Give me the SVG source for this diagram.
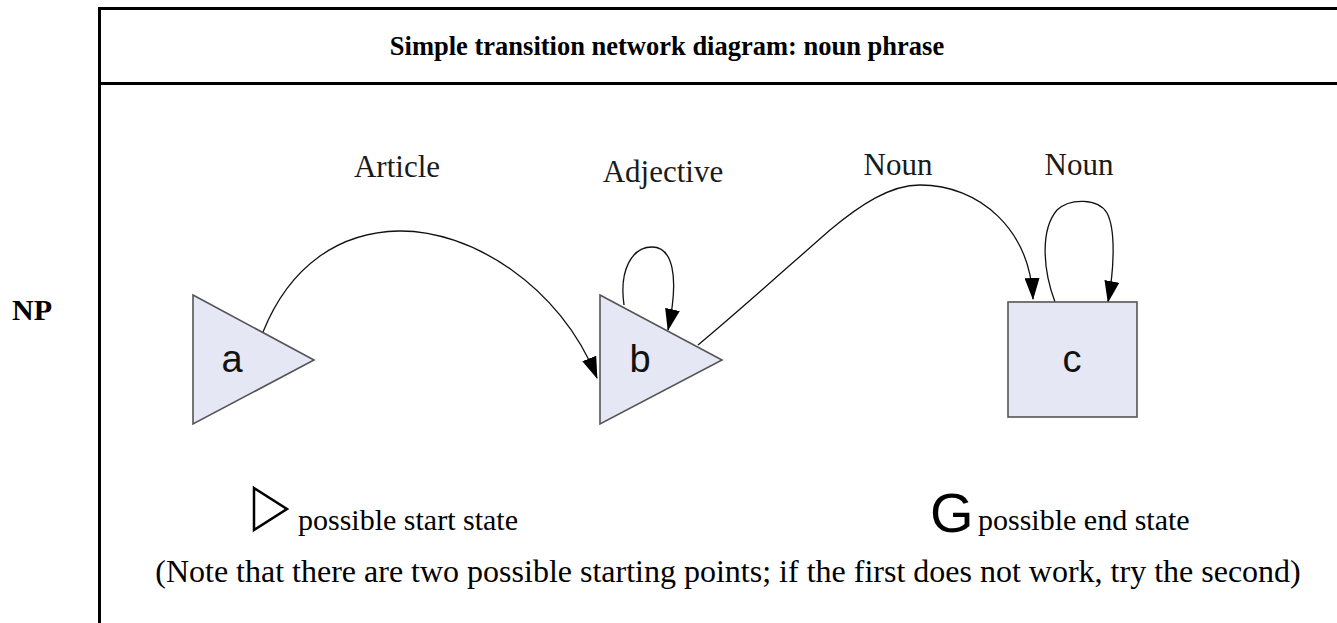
<svg xmlns="http://www.w3.org/2000/svg" width="1337" height="623" viewBox="0 0 1337 623">
<defs>
<style>
.frame{stroke:#000;stroke-width:3;fill:none}
.serif{font-family:"Liberation Serif","Times New Roman",serif;fill:#000}
.lbl{font-family:"Liberation Serif","Times New Roman",serif;font-size:31px;fill:#1a1a1a}
.node{fill:#e5e8f4;stroke:#555;stroke-width:1.6}
.nl{font-family:"Liberation Sans",Arial,sans-serif;font-size:38px;fill:#111}
.edge{fill:none;stroke:#111;stroke-width:1.3}
</style>
<marker id="ah" viewBox="0 0 22 15" refX="21" refY="7.5" markerWidth="22" markerHeight="15" markerUnits="userSpaceOnUse" orient="auto">
<path d="M0,0 L22,7.5 L0,15 z" fill="#000"/>
</marker>
</defs>
<rect width="1337" height="623" fill="#fff"/>
<g id="frame">
<line class="frame" x1="99.5" y1="7" x2="99.5" y2="623"/>
<line class="frame" x1="98" y1="8.5" x2="1337" y2="8.5"/>
<line class="frame" x1="98" y1="83.5" x2="1337" y2="83.5"/>
</g>
<text class="serif" x="667" y="55" text-anchor="middle" font-size="26.5" font-weight="bold">Simple transition network diagram: noun phrase</text>
<text class="serif" x="12" y="320" font-size="30" font-weight="bold">NP</text>
<g id="connectors">
<path class="edge" d="M263,332 C290,265 340,232 399,231 C470,230 560,285 597,378" marker-end="url(#ah)"/>
<path class="edge" d="M624,305 C619,270 632,247 652,247 C672,247 680,275 668,330" marker-end="url(#ah)"/>
<path class="edge" d="M698,345 C740,310 790,265 830,230 C860,205 890,185 920,185 C980,185 1030,230 1033,299" marker-end="url(#ah)"/>
<path class="edge" d="M1055,302 C1043,270 1040,230 1057,210 C1070,198 1098,198 1107,213 C1116,230 1114,270 1108,302" marker-end="url(#ah)"/>
</g>
<g id="node-a">
<polygon class="node" points="193,295 314,360 193,424"/>
<text class="nl" x="232" y="372" text-anchor="middle">a</text>
</g>
<g id="node-b">
<polygon class="node" points="600,295 722,360 600,424"/>
<text class="nl" x="640" y="372" text-anchor="middle">b</text>
</g>
<g id="node-c">
<rect class="node" x="1008" y="302" width="129" height="115"/>
<text class="nl" x="1072" y="372" text-anchor="middle">c</text>
</g>
<g id="labels">
<text class="lbl" x="397" y="177" text-anchor="middle">Article</text>
<text class="lbl" x="663" y="182" text-anchor="middle">Adjective</text>
<text class="lbl" x="898" y="175" text-anchor="middle">Noun</text>
<text class="lbl" x="1079" y="175" text-anchor="middle">Noun</text>
</g>
<g id="legend">
<polygon points="254,488 287,509 254,530" fill="none" stroke="#000" stroke-width="2.5"/>
<text class="serif" x="298" y="530" font-size="30">possible start state</text>
<text x="930" y="532" font-family="'Liberation Sans',Arial,sans-serif" font-size="56" fill="#000">G</text>
<text class="serif" x="978" y="530" font-size="30">possible end state</text>
<text class="serif" x="728" y="582" font-size="32" text-anchor="middle">(Note that there are two possible starting points; if the first does not work, try the second)</text>
</g>
</svg>
